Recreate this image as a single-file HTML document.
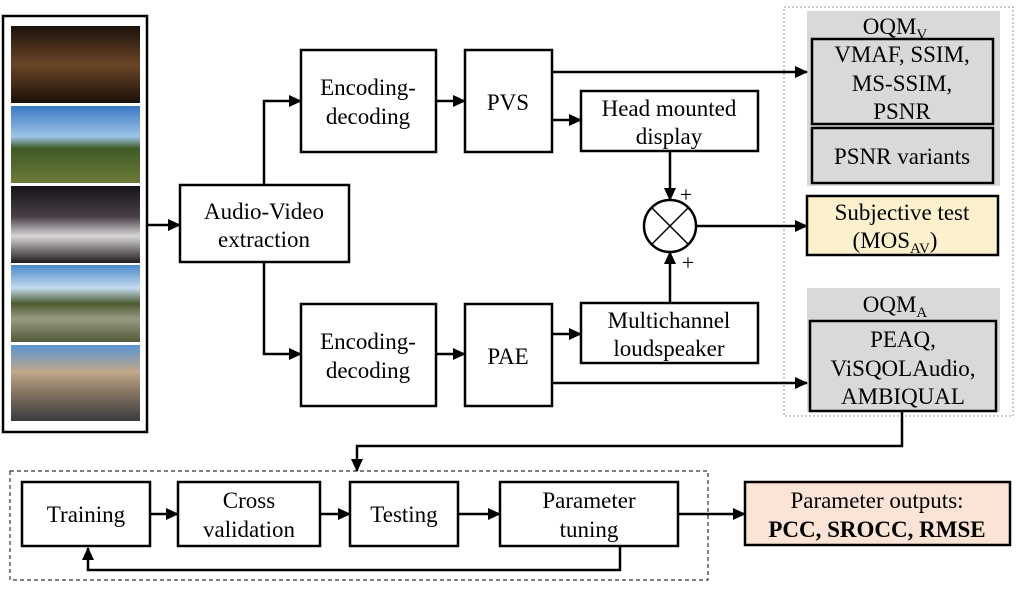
<!DOCTYPE html>
<html><head><meta charset="utf-8"><style>
html,body{margin:0;padding:0;background:#fff;}
svg{display:block;}
text{font-family:"Liberation Serif","Times New Roman",serif;}
</style></head><body>
<svg width="1024" height="593" viewBox="0 0 1024 593" xmlns="http://www.w3.org/2000/svg">
<defs>
<marker id="a" markerWidth="13" markerHeight="12" refX="12" refY="6" orient="auto" markerUnits="userSpaceOnUse"><path d="M0,0 L13,6 L0,12 z" fill="#000"/></marker>
<linearGradient id="g1" x1="0" y1="0" x2="0" y2="1"><stop offset="0" stop-color="#1a120c"/><stop offset=".5" stop-color="#6b4526"/><stop offset="1" stop-color="#1a100a"/></linearGradient>
<linearGradient id="g2" x1="0" y1="0" x2="0" y2="1"><stop offset="0" stop-color="#3a78c4"/><stop offset=".4" stop-color="#9cc4e4"/><stop offset=".55" stop-color="#3f5a24"/><stop offset="1" stop-color="#6c7a3a"/></linearGradient>
<linearGradient id="g3" x1="0" y1="0" x2="0" y2="1"><stop offset="0" stop-color="#151218"/><stop offset=".4" stop-color="#4a4048"/><stop offset=".65" stop-color="#d8d6d8"/><stop offset="1" stop-color="#201a1a"/></linearGradient>
<linearGradient id="g4" x1="0" y1="0" x2="0" y2="1"><stop offset="0" stop-color="#4a88cc"/><stop offset=".3" stop-color="#c4dcee"/><stop offset=".5" stop-color="#4c5a30"/><stop offset=".7" stop-color="#9a9a84"/><stop offset="1" stop-color="#505a38"/></linearGradient>
<linearGradient id="g5" x1="0" y1="0" x2="0" y2="1"><stop offset="0" stop-color="#5a94d4"/><stop offset=".35" stop-color="#c0a888"/><stop offset=".65" stop-color="#807060"/><stop offset="1" stop-color="#3a3a40"/></linearGradient>
</defs>
<g stroke="#000" stroke-width="2.5" fill="#fff">
<rect x="3" y="16" width="144" height="416"/>
</g>
<rect x="11" y="26" width="129" height="77" fill="url(#g1)"/>
<rect x="11" y="106" width="129" height="77" fill="url(#g2)"/>
<rect x="11" y="186" width="129" height="77" fill="url(#g3)"/>
<rect x="11" y="265" width="129" height="77" fill="url(#g4)"/>
<rect x="11" y="345" width="129" height="76" fill="url(#g5)"/>

<rect x="784" y="7" width="229" height="409" fill="none" stroke="#999" stroke-width="1" stroke-dasharray="2,2"/>
<rect x="807" y="11" width="193" height="175" fill="#d9d9d9"/>
<rect x="807" y="288" width="193" height="124" fill="#d9d9d9"/>

<g stroke="#000" stroke-width="2.5" fill="#fff">
<rect x="180" y="185" width="169" height="77"/>
<rect x="301" y="50" width="135" height="102"/>
<rect x="465" y="50" width="87" height="102"/>
<rect x="301" y="304" width="135" height="102"/>
<rect x="465" y="304" width="87" height="102"/>
<rect x="581" y="91" width="177" height="60"/>
<rect x="581" y="303" width="177" height="60"/>
<rect x="812" y="39" width="181" height="85" fill="#d9d9d9"/>
<rect x="812" y="128" width="181" height="55" fill="#d9d9d9"/>
<rect x="807" y="196" width="191" height="59" fill="#fdf0cc"/>
<rect x="810" y="321" width="186" height="90" fill="#d9d9d9"/>
<circle cx="670" cy="226" r="26"/>
<rect x="22" y="482" width="128" height="64"/>
<rect x="178" y="482" width="142" height="64"/>
<rect x="350" y="482" width="108" height="64"/>
<rect x="500" y="482" width="178" height="64"/>
<rect x="745" y="482" width="265" height="63" fill="#fbe3d5"/>
</g>
<rect x="10" y="471" width="698" height="109" fill="none" stroke="#333" stroke-width="1.2" stroke-dasharray="4,3"/>

<g stroke="#000" stroke-width="1.5"><line x1="652" y1="208" x2="688" y2="244"/><line x1="688" y1="208" x2="652" y2="244"/></g>

<g stroke="#000" stroke-width="2.5" fill="none" marker-end="url(#a)">
<path d="M147 225 H180"/>
<path d="M264 185 V101 H301"/>
<path d="M264 262 V354 H301"/>
<path d="M436 101 H465"/>
<path d="M436 354 H465"/>
<path d="M552 72 H807"/>
<path d="M552 120 H581"/>
<path d="M552 334 H581"/>
<path d="M552 383 H807"/>
<path d="M670 151 V200"/>
<path d="M670 303 V252"/>
<path d="M696 226 H807"/>
<path d="M902 412 V446 H357 V471"/>
<path d="M150 514 H178"/>
<path d="M320 514 H350"/>
<path d="M458 514 H500"/>
<path d="M678 514 H745"/>
<path d="M620 546 V570 H88 V548"/>
</g>

<g font-size="23" text-anchor="middle" fill="#000">
<text x="264" y="219">Audio-Video</text><text x="264" y="247">extraction</text>
<text x="368" y="95">Encoding-</text><text x="368" y="124">decoding</text>
<text x="368" y="349">Encoding-</text><text x="368" y="378">decoding</text>
<text x="508" y="110">PVS</text>
<text x="508" y="364">PAE</text>
<text x="669" y="116">Head mounted</text><text x="669" y="144">display</text>
<text x="669" y="328">Multichannel</text><text x="669" y="356">loudspeaker</text>
<text x="686" y="202" font-size="22">+</text>
<text x="688" y="270" font-size="22">+</text>
<text x="895" y="34">OQM<tspan font-size="15" dy="5">V</tspan></text>
<text x="902" y="62">VMAF, SSIM,</text><text x="902" y="91">MS-SSIM,</text><text x="902" y="119">PSNR</text>
<text x="902" y="164">PSNR variants</text>
<text x="902" y="220">Subjective test</text>
<text x="895" y="248">(MOS<tspan font-size="15" dy="5">AV</tspan><tspan dy="-5">)</tspan></text>
<text x="895" y="312">OQM<tspan font-size="15" dy="5">A</tspan></text>
<text x="903" y="347">PEAQ,</text><text x="903" y="376">ViSQOLAudio,</text><text x="903" y="404">AMBIQUAL</text>
<text x="86" y="522">Training</text>
<text x="249" y="508">Cross</text><text x="249" y="537">validation</text>
<text x="404" y="522">Testing</text>
<text x="589" y="508">Parameter</text><text x="589" y="537">tuning</text>
<text x="877" y="508">Parameter outputs:</text>
<text x="877" y="537" font-weight="bold">PCC, SROCC, RMSE</text>
</g>
</svg>
</body></html>
